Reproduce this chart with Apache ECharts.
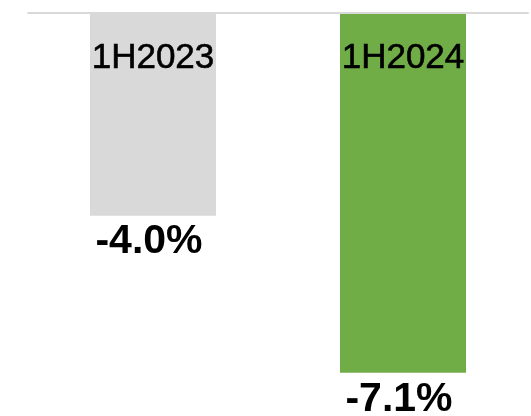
<!DOCTYPE html>
<html>
<head>
<meta charset="utf-8">
<script src="https://cdn.jsdelivr.net/npm/echarts@6/dist/echarts.min.js"></script>
<style>html,body{margin:0;padding:0;background:#fff}#c{width:531px;height:416px}</style>
</head>
<body>
<div id="c"></div>
<script>
const categories = ['1H2023', '1H2024'];
const values = [-4.0, -7.1];
const barColors = ['#d9d9d9', '#70ad47'];

const chart = echarts.init(document.getElementById('c'), null, {renderer: 'canvas'});
chart.setOption({
  animation: false,
  grid: {left: 28, right: 3, top: 13, height: 380},
  xAxis: {
    type: 'category',
    data: categories,
    position: 'top',
    axisLine: {lineStyle: {color: '#d9d9d9', width: 2}},
    axisTick: {show: false},
    axisLabel: {
      inside: true, margin: 28, color: '#000',
      fontFamily: 'Liberation Sans', fontSize: 35,
      textBorderColor: '#000', textBorderWidth: 0.6
    },
    z: 5
  },
  yAxis: {type: 'value', min: -7.5, max: 0, show: false, splitLine: {show: false}},
  series: [{
    type: 'bar',
    barWidth: 126,
    data: values.map((v, i) => ({value: v, itemStyle: {color: barColors[i]}})),
    label: {
      show: true,
      position: 'bottom',
      distance: 6,
      offset: [-4, 0],
      formatter: p => p.value.toFixed(1) + '%',
      color: '#000',
      fontFamily: 'Liberation Sans',
      fontWeight: 'bold',
      fontSize: 41
    }
  }]
});
</script>
</body>
</html>
